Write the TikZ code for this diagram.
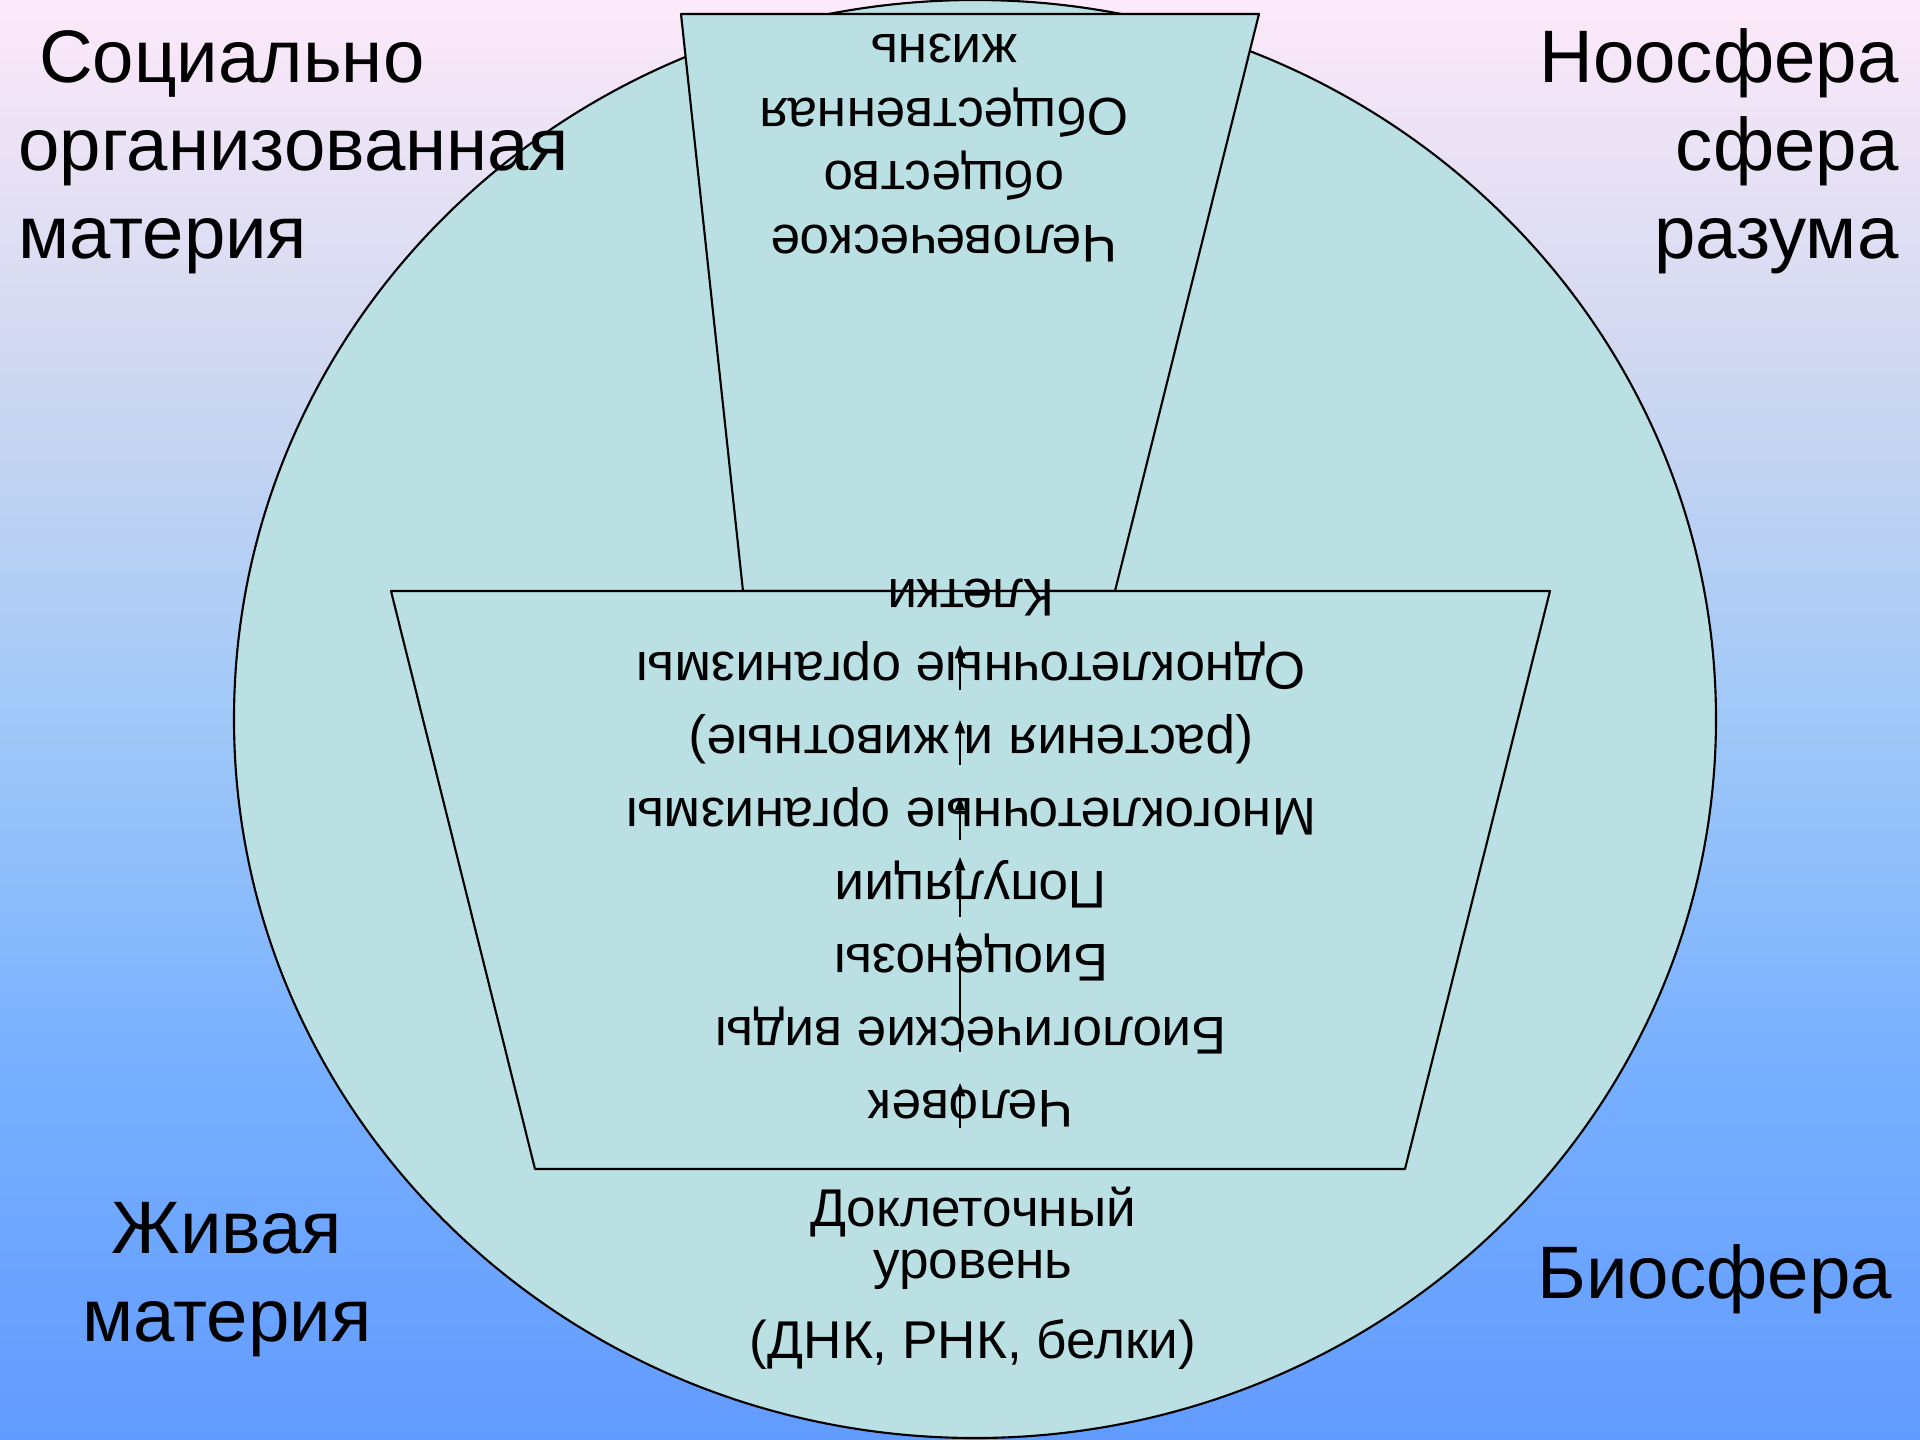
\documentclass[tikz,border=0pt]{standalone}
\usepackage{fontspec}
\setmainfont{Liberation Sans}
\usetikzlibrary{arrows.meta}

\definecolor{bgtop}{RGB}{253,233,249}
\definecolor{bgq1}{RGB}{208,216,240}
\definecolor{bgmid}{RGB}{160,200,248}
\definecolor{bgq3}{RGB}{118,175,255}
\definecolor{bgbot}{RGB}{98,155,255}
\definecolor{cellfill}{RGB}{187,224,227}

\pgfdeclareverticalshading{slidebg}{100bp}{color(0bp)=(bgbot); color(25bp)=(bgbot); color(37.5bp)=(bgq3); color(50bp)=(bgmid); color(62.5bp)=(bgq1); color(75bp)=(bgtop); color(100bp)=(bgtop)}

\tikzset{
  corner/.style={font=\fontsize{28}{33}\selectfont, inner sep=0pt},
  level/.style={rotate=180, align=center, inner sep=0pt},
  zone/.style={draw, fill=cellfill, line width=0.8pt},
  upward/.style={-{Triangle[length=5pt,width=3.8pt]}, line width=0.7pt}
}

\begin{document}
\begin{tikzpicture}[x=0.0132292cm, y=-0.0132292cm, line join=round]
\useasboundingbox (0,0) rectangle (1920,1440);
\shade[shading=slidebg] (0,0) rectangle (1920,1440);

\draw[zone] (975,719) ellipse [x radius=741, y radius=719];

\draw[zone] (681,14) -- (1259,14) -- (1115,591) -- (743,591) -- cycle;
\draw[zone] (391,591) -- (1550,591) -- (1405,1169) -- (535,1169) -- cycle;

\node[corner, align=left, anchor=base west] (social) at (18,258) {\ Социально\\организованная\\материя};
\node[corner, align=right, anchor=base east] (noosphere) at (1899,258) {Ноосфера\\сфера\\разума};
\node[corner, align=center, anchor=base] (living) at (227,1341) {Живая\\материя};
\node[corner, anchor=base west] (biosphere) at (1537,1298) {Биосфера};

\node[level, font=\fontsize{20}{24}\selectfont] (society) at (944,148) {Человеческое\\общество\\Общественная\\жизнь};
\node[level, font=\fontsize{20}{27.5}\selectfont] (levels) at (971,853) {Человек\\Биологические виды\\Биоценозы\\Популяции\\Многоклеточные организмы\\(растения и животные)\\Одноклеточные организмы\\Клетки};
\node[align=center, anchor=base, inner sep=0pt, font=\fontsize{20}{19.5}\selectfont] (precell) at (973,1358) {Доклеточный\\уровень\\[10.5pt](ДНК, РНК, белки)};

\coordinate (a1) at (960,1128); \coordinate (b1) at (960,1083);
\coordinate (a2) at (960,1052); \coordinate (b2) at (960,932);
\coordinate (a3) at (960,917);  \coordinate (b3) at (960,857);
\coordinate (a4) at (960,840);  \coordinate (b4) at (960,797);
\coordinate (a5) at (960,765);  \coordinate (b5) at (960,720);
\coordinate (a6) at (960,690);  \coordinate (b6) at (960,645);

\draw[upward] (a1) -- (b1);
\draw[upward] (a2) -- (b2);
\draw[upward] (a3) -- (b3);
\draw[upward] (a4) -- (b4);
\draw[upward] (a5) -- (b5);
\draw[upward] (a6) -- (b6);
\end{tikzpicture}
\end{document}
